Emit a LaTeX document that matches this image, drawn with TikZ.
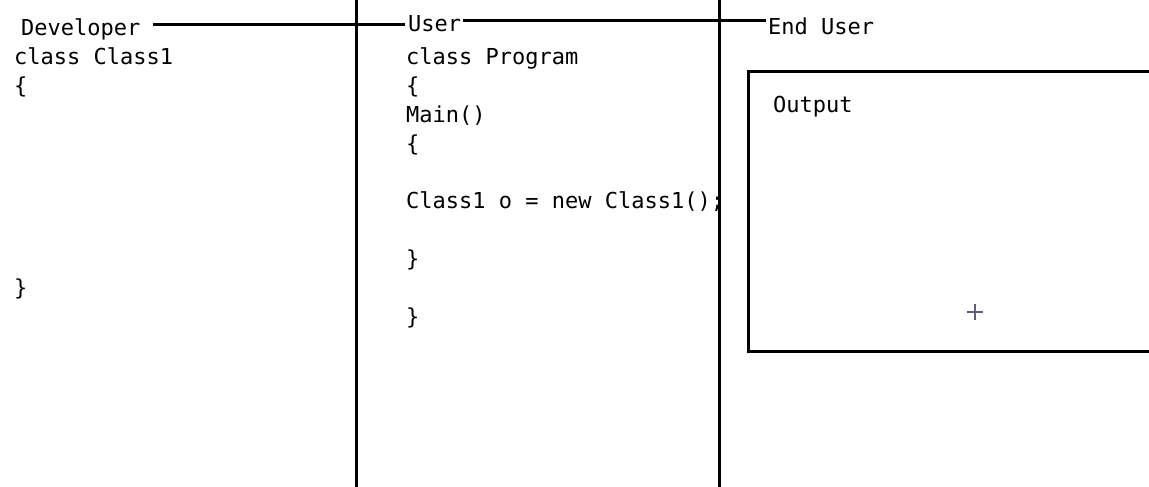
\documentclass[tikz,border=0pt]{standalone}
\usepackage{fontspec}
\newfontfamily\codefont{DejaVu Sans Mono}
\usepackage{tikz}
\usetikzlibrary{positioning}
\definecolor{cursorgray}{RGB}{95,95,125}

\begin{document}
\begin{tikzpicture}[
  x=1pt, y=-1pt,
  code/.style={anchor=base west, inner sep=0pt, font=\codefont\fontsize{22}{29}\selectfont},
  rule/.style={line width=3pt},
  divider/.style={line width=3pt}]
  \useasboundingbox[fill=white] (0,0) rectangle (1149,487);
  % column dividers
  \draw[divider] (356,0) -- (356,487);
  \draw[divider] (719,0) -- (719,487);
  % role labels
  \node[code] (dev) at (21,36) {Developer};
  \node[code] (user) at (408,32) {User};
  \node[code] (enduser) at (768,35) {End User};
  \draw[rule] ([xshift=12pt]dev.east |- 0,25) -- ([xshift=-3pt]user.west |- 0,25);
  \draw[rule] ([xshift=2pt]user.east |- 0,21) -- ([xshift=-2pt]enduser.west |- 0,21);
  % developer column
  \node[code] (c1) at (14,65) {class Class1};
  \node[code] (c1open) at (14,94) {\{};
  \node[code] (c1close) at (14,295) {\}};
  % user column
  \node[code] (prog) at (406,65) {class Program};
  \node[code] (progopen) at (406,94) {\{};
  \node[code] (main) at (406,122) {Main()};
  \node[code] (mainopen) at (406,151) {\{};
  \node[code] (obj) at (406,208) {Class1 o = new Class1();};
  \node[code] (mainclose) at (406,266) {\}};
  \node[code] (progclose) at (406,324) {\}};
  % end user column
  \draw[divider] (1160,72) -- (748,72) -- (748,351) -- (1160,351);
  \node[code] (out) at (773,113) {Output};
  \draw[cursorgray, line width=1.5pt] (967,312) -- (983,312) (975,304) -- (975,320);
\end{tikzpicture}
\end{document}
